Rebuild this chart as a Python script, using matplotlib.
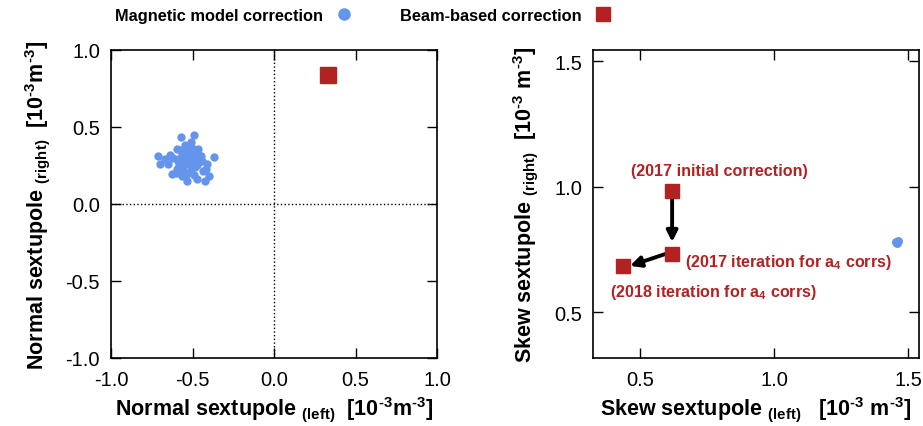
import matplotlib
matplotlib.use('Agg')
import matplotlib.pyplot as plt
from matplotlib.lines import Line2D

plt.rcParams['font.family'] = ['Liberation Sans', 'DejaVu Sans']
plt.rcParams['mathtext.fontset'] = 'custom'
plt.rcParams['mathtext.rm'] = 'Liberation Sans:bold'
plt.rcParams['mathtext.bf'] = 'Liberation Sans:bold'
plt.rcParams['mathtext.default'] = 'bf'

BLUE = '#6495ED'
RED = '#B22222'

# magnetic model correction, normal sextupole (left, right)
mag_normal_left = [-0.491, -0.571, -0.710, -0.698, -0.648, -0.638, -0.597, -0.546, -0.505, -0.464,
                   -0.448, -0.368, -0.413, -0.454, -0.526, -0.566, -0.546, -0.485, -0.434, -0.397,
                   -0.597, -0.628, -0.566, -0.536, -0.474, -0.423, -0.515, -0.587, -0.505, -0.485,
                   -0.550, -0.520, -0.560, -0.500, -0.530, -0.580, -0.540, -0.470, -0.510, -0.570,
                   -0.620, -0.600, -0.490, -0.440, -0.530, -0.460, -0.590, -0.510, -0.670, -0.420]
mag_normal_right = [0.450, 0.433, 0.314, 0.260, 0.260, 0.320, 0.357, 0.385, 0.364, 0.357,
                    0.314, 0.303, 0.260, 0.281, 0.303, 0.325, 0.260, 0.238, 0.216, 0.184,
                    0.227, 0.195, 0.184, 0.151, 0.162, 0.151, 0.206, 0.281, 0.336, 0.271,
                    0.300, 0.270, 0.220, 0.300, 0.350, 0.250, 0.190, 0.250, 0.230, 0.350,
                    0.300, 0.200, 0.190, 0.280, 0.320, 0.320, 0.290, 0.400, 0.290, 0.230]

# beam-based correction, normal sextupole
beam_normal_left = [0.33]
beam_normal_right = [0.84]

# skew sextupole
mag_skew_left = [1.455, 1.460, 1.462]
mag_skew_right = [0.780, 0.775, 0.783]
beam_skew_left = [0.62, 0.62, 0.437]
beam_skew_right = [0.982, 0.731, 0.684]
beam_skew_notes = ['(2017 initial correction)',
                   '(2017 iteration for a$_4$ corrs)',
                   '(2018 iteration for a$_4$ corrs)']

UNIT = r'[10$^{\text{-}3}$m$^{\text{-}3}$]'
UNIT_SP = r'[10$^{\text{-}3}$ m$^{\text{-}3}$]'

fig = plt.figure(figsize=(9.23, 4.27), dpi=100)
ax1 = fig.add_axes([0.1203, 0.1593, 0.3532, 0.7213])
ax2 = fig.add_axes([0.6425, 0.1593, 0.3532, 0.7213])

# left panel
ax1.axhline(0, color='k', ls=':', lw=1, zorder=1)
ax1.axvline(0, color='k', ls=':', lw=1, zorder=1)
ax1.scatter(mag_normal_left, mag_normal_right, s=36, color=BLUE, linewidths=0, zorder=3)
ax1.plot(beam_normal_left, beam_normal_right, 's', ms=12, color=RED, zorder=3)
ax1.set_xlim(-1, 1)
ax1.set_ylim(-1, 1)
ticks1 = [-1.0, -0.5, 0.0, 0.5, 1.0]
ax1.set_xticks(ticks1)
ax1.set_yticks(ticks1)
ax1.set_xticklabels([f'{t:.1f}' for t in ticks1])
ax1.set_yticklabels([f'{t:.1f}' for t in ticks1])
ax1.set_xlabel(r'Normal sextupole $_{(left)}$  ' + UNIT, fontsize=15.5, fontweight='bold', labelpad=3)
ax1.set_ylabel(r'Normal sextupole $_{(right)}$  ' + UNIT, fontsize=15.5, fontweight='bold', labelpad=10)

# right panel
ax2.scatter(mag_skew_left, mag_skew_right, s=42, color=BLUE, linewidths=0, zorder=3)
ax2.plot(beam_skew_left, beam_skew_right, 's', ms=9.5, color=RED, ls='none', zorder=3)
ax2.annotate('', xy=(beam_skew_left[1], 0.779), xytext=(beam_skew_left[0], 0.950),
             arrowprops=dict(arrowstyle='-|>', lw=2.8, color='k', mutation_scale=16,
                             shrinkA=0, shrinkB=0), zorder=2)
ax2.annotate('', xy=(0.463, 0.684), xytext=(0.594, 0.731),
             arrowprops=dict(arrowstyle='-|>', lw=2.8, color='k', mutation_scale=16,
                             shrinkA=0, shrinkB=0), zorder=2)
ax2.text(0.795, 1.062, beam_skew_notes[0], color=RED, fontsize=11.6, fontweight='bold',
         ha='center', va='center')
ax2.text(0.668, 0.703, beam_skew_notes[1], color=RED, fontsize=11.6, fontweight='bold',
         ha='left', va='center')
ax2.text(0.388, 0.58, beam_skew_notes[2], color=RED, fontsize=11.6, fontweight='bold',
         ha='left', va='center')
ax2.set_xlim(0.325, 1.541)
ax2.set_ylim(0.317, 1.544)
ticks2 = [0.5, 1.0, 1.5]
ax2.set_xticks(ticks2)
ax2.set_yticks(ticks2)
ax2.set_xticklabels([f'{t:.1f}' for t in ticks2])
ax2.set_yticklabels([f'{t:.1f}' for t in ticks2])
ax2.set_xlabel(r'Skew sextupole $_{(left)}$   ' + UNIT_SP, fontsize=15.5, fontweight='bold', labelpad=3)
ax2.set_ylabel(r'Skew sextupole $_{(right)}$  ' + UNIT_SP, fontsize=15.5, fontweight='bold', labelpad=10)

for ax in (ax1, ax2):
    ax.tick_params(direction='in', length=7, width=1, top=True, right=True, labelsize=14.5)
    ax.tick_params(axis='x', pad=9)
    ax.tick_params(axis='y', pad=8)
    for sp in ax.spines.values():
        sp.set_linewidth(1.2)

handles = [Line2D([], [], marker='o', ls='none', color=BLUE, ms=8),
           Line2D([], [], marker='s', ls='none', color=RED, ms=10)]
fig.legend(handles, ['Magnetic model correction', 'Beam-based correction'],
           loc='center', bbox_to_anchor=(0.393, 0.962), ncol=2, frameon=False,
           markerfirst=False, prop={'weight': 'bold', 'size': 11.8},
           handlelength=1.0, handletextpad=0.8, columnspacing=2.9)

fig.savefig('out.png', dpi=100)
